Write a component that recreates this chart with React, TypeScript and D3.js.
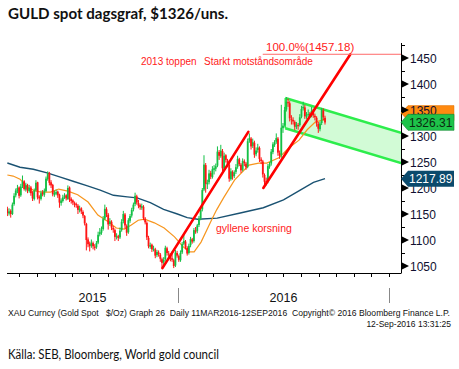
import * as d3 from 'd3';
import * as React from 'react';

// chart box
const W = 459;
const H = 369;
const plotLeft = 7;
const plotRight = 401;
const plotTop = 43;
const plotBottom = 273;

const seriesStart = '2015-03-11';
const seriesEnd = '2016-09-12';

// one bar per two trading days: [open, high, low, close]
const candles: [number, number, number, number][] = [
    // Mar 2015
    [1160, 1164, 1146, 1152], [1151, 1161, 1147, 1155], [1156, 1159, 1143, 1150], [1150, 1172, 1148, 1168],
    [1169, 1190, 1166, 1185], [1186, 1199, 1182, 1195], [1194, 1206, 1190, 1200], [1201, 1203, 1180, 1185],
    // Apr
    [1186, 1208, 1183, 1203], [1204, 1224, 1200, 1212], [1213, 1215, 1195, 1198], [1197, 1210, 1193, 1205],
    [1206, 1208, 1190, 1195], [1194, 1206, 1191, 1200], [1201, 1204, 1185, 1190], [1191, 1194, 1175, 1180],
    [1179, 1199, 1176, 1195], [1196, 1215, 1193, 1210], [1211, 1212, 1178, 1182],
    // May
    [1183, 1186, 1170, 1180], [1179, 1195, 1176, 1190], [1191, 1196, 1184, 1188], [1187, 1199, 1183, 1195],
    [1194, 1222, 1192, 1218], [1217, 1232, 1214, 1228], [1229, 1231, 1205, 1210], [1211, 1215, 1200, 1205],
    [1206, 1208, 1184, 1188], [1187, 1195, 1183, 1190],
    // Jun
    [1189, 1197, 1186, 1192], [1193, 1195, 1181, 1186], [1187, 1189, 1162, 1172], [1171, 1180, 1166, 1176],
    [1175, 1187, 1172, 1182], [1183, 1190, 1179, 1185], [1186, 1188, 1176, 1180], [1179, 1205, 1177, 1200],
    [1201, 1203, 1173, 1178], [1179, 1182, 1170, 1175], [1176, 1178, 1167, 1172],
    // Jul
    [1171, 1174, 1163, 1168], [1169, 1172, 1162, 1167], [1166, 1169, 1150, 1158], [1157, 1166, 1153, 1160],
    [1161, 1163, 1150, 1155], [1154, 1157, 1142, 1147], [1146, 1148, 1128, 1132], [1131, 1133, 1080, 1100],
    [1101, 1105, 1086, 1092], [1093, 1097, 1078, 1088], [1089, 1101, 1085, 1095],
    // Aug
    [1094, 1097, 1082, 1088], [1087, 1092, 1080, 1085], [1086, 1098, 1083, 1094], [1095, 1116, 1092, 1110],
    [1111, 1123, 1107, 1115], [1114, 1126, 1110, 1120], [1121, 1146, 1118, 1140], [1141, 1168, 1138, 1160],
    [1159, 1163, 1144, 1150], [1149, 1152, 1120, 1130],
    // Sep
    [1131, 1142, 1127, 1136], [1135, 1138, 1119, 1124], [1123, 1127, 1114, 1120], [1119, 1122, 1098, 1106],
    [1105, 1113, 1101, 1108], [1107, 1110, 1098, 1104], [1105, 1124, 1102, 1118], [1119, 1140, 1116, 1135],
    [1136, 1156, 1132, 1150], [1149, 1152, 1122, 1128],
    // Oct
    [1127, 1130, 1108, 1114], [1115, 1142, 1112, 1138], [1137, 1150, 1133, 1146], [1147, 1162, 1143, 1158],
    [1159, 1172, 1155, 1168], [1169, 1191, 1165, 1185], [1184, 1187, 1168, 1172], [1171, 1177, 1161, 1166],
    [1167, 1170, 1158, 1163], [1162, 1170, 1158, 1165], [1164, 1167, 1138, 1142],
    // Nov
    [1141, 1144, 1130, 1134], [1133, 1136, 1100, 1105], [1104, 1108, 1084, 1088], [1087, 1095, 1083, 1090],
    [1091, 1093, 1077, 1082], [1081, 1089, 1078, 1083], [1082, 1085, 1065, 1070], [1071, 1081, 1067, 1077],
    [1076, 1080, 1068, 1073], [1072, 1075, 1058, 1064],
    // Dec
    [1063, 1066, 1046, 1056], [1057, 1067, 1052, 1062], [1063, 1089, 1060, 1085], [1084, 1087, 1070, 1075],
    [1074, 1079, 1068, 1072], [1071, 1074, 1059, 1064], [1065, 1078, 1058, 1062], [1061, 1064, 1046, 1050],
    [1051, 1081, 1048, 1076], [1075, 1079, 1066, 1070], [1069, 1072, 1058, 1062],
    // Jan 2016
    [1061, 1080, 1058, 1075], [1076, 1096, 1073, 1092], [1093, 1111, 1090, 1098], [1097, 1100, 1082, 1086],
    [1085, 1088, 1070, 1074], [1075, 1093, 1072, 1089], [1090, 1106, 1086, 1102], [1101, 1104, 1093, 1097],
    [1098, 1123, 1095, 1119], [1118, 1125, 1112, 1116],
    // Feb
    [1117, 1131, 1113, 1128], [1129, 1146, 1125, 1141], [1142, 1163, 1138, 1158], [1159, 1200, 1155, 1196],
    [1197, 1263, 1194, 1245], [1244, 1248, 1191, 1208], [1207, 1216, 1198, 1210], [1211, 1235, 1207, 1228],
    [1229, 1233, 1217, 1222], [1221, 1242, 1218, 1236],
    // Mar
    [1235, 1244, 1226, 1238], [1237, 1247, 1232, 1242], [1243, 1280, 1240, 1270], [1269, 1273, 1254, 1262],
    [1261, 1283, 1258, 1272], [1271, 1275, 1232, 1238], [1237, 1268, 1234, 1262], [1263, 1265, 1249, 1254],
    [1253, 1256, 1240, 1246], [1245, 1248, 1212, 1218], [1217, 1238, 1214, 1232],
    // Apr
    [1231, 1234, 1216, 1222], [1223, 1234, 1219, 1230], [1231, 1246, 1227, 1240], [1241, 1262, 1237, 1256],
    [1255, 1258, 1242, 1246], [1245, 1248, 1229, 1234], [1235, 1257, 1232, 1252], [1251, 1255, 1242, 1248],
    [1247, 1250, 1235, 1240], [1241, 1295, 1238, 1290],
    // May
    [1291, 1305, 1287, 1296], [1295, 1298, 1274, 1280], [1281, 1295, 1277, 1288], [1287, 1291, 1258, 1264],
    [1265, 1278, 1261, 1272], [1273, 1285, 1268, 1278], [1277, 1280, 1250, 1256], [1255, 1259, 1246, 1252],
    [1251, 1254, 1220, 1226], [1225, 1228, 1200, 1212],
    // Jun
    [1213, 1220, 1205, 1212], [1213, 1246, 1209, 1242], [1241, 1250, 1237, 1246], [1247, 1275, 1243, 1270],
    [1269, 1288, 1265, 1284], [1283, 1292, 1279, 1288], [1289, 1305, 1285, 1296], [1295, 1298, 1262, 1268],
    [1267, 1272, 1256, 1262], [1263, 1360, 1258, 1316], [1315, 1325, 1306, 1320],
    // Jul
    [1321, 1356, 1318, 1350], [1351, 1375, 1347, 1366], [1365, 1372, 1356, 1364], [1363, 1367, 1328, 1334],
    [1333, 1340, 1322, 1332], [1331, 1336, 1322, 1328], [1327, 1330, 1311, 1318], [1317, 1327, 1313, 1322],
    [1321, 1325, 1312, 1320], [1321, 1342, 1318, 1336],
    // Aug
    [1337, 1358, 1334, 1352], [1353, 1366, 1349, 1356], [1355, 1360, 1333, 1338], [1337, 1346, 1333, 1340],
    [1341, 1351, 1337, 1342], [1343, 1346, 1335, 1340], [1339, 1356, 1336, 1348], [1347, 1352, 1335, 1340],
    [1339, 1343, 1330, 1336], [1335, 1338, 1318, 1324], [1323, 1327, 1306, 1314],
    // Sep
    [1313, 1328, 1309, 1324], [1325, 1354, 1321, 1350], [1349, 1353, 1330, 1336], [1335, 1339, 1322, 1326],
];

// 50-day moving average (orange)
const ma50: [string, number][] = [
    ['2015-03-11', 1225], ['2015-03-21', 1223], ['2015-04-02', 1217], ['2015-04-14', 1202],
    ['2015-04-25', 1196], ['2015-05-08', 1192], ['2015-05-25', 1192], ['2015-06-08', 1198],
    ['2015-06-24', 1194], ['2015-07-11', 1187], ['2015-07-29', 1173], ['2015-08-15', 1148],
    ['2015-09-02', 1135], ['2015-09-16', 1123], ['2015-09-30', 1121], ['2015-10-12', 1129],
    ['2015-10-24', 1138], ['2015-11-04', 1140], ['2015-11-21', 1133], ['2015-12-08', 1123],
    ['2015-12-26', 1106], ['2016-01-10', 1087], ['2016-01-21', 1077], ['2016-01-29', 1077],
    ['2016-02-10', 1096], ['2016-02-28', 1138], ['2016-03-08', 1158], ['2016-03-20', 1181],
    ['2016-04-08', 1215], ['2016-05-03', 1244], ['2016-05-20', 1248], ['2016-06-03', 1248],
    ['2016-06-24', 1258], ['2016-07-11', 1277], ['2016-07-29', 1292], ['2016-08-12', 1312],
    ['2016-08-26', 1327], ['2016-09-12', 1332],
];

// 200-day moving average (dark blue)
const ma200: [string, number][] = [
    ['2015-03-11', 1248], ['2015-04-02', 1240], ['2015-04-25', 1236], ['2015-05-19', 1229],
    ['2015-06-11', 1221], ['2015-07-03', 1213], ['2015-07-28', 1204], ['2015-08-19', 1196],
    ['2015-09-11', 1186], ['2015-10-05', 1183], ['2015-10-22', 1181], ['2015-11-14', 1172],
    ['2015-12-07', 1159], ['2015-12-31', 1150], ['2016-01-17', 1143], ['2016-02-04', 1140],
    ['2016-03-09', 1142], ['2016-04-18', 1152], ['2016-05-28', 1162], ['2016-07-02', 1177],
    ['2016-07-31', 1196], ['2016-08-23', 1211], ['2016-09-12', 1217.89],
];

// hand-drawn trend lines, channel and resistance
const trendA: [string, number][] = [['2015-12-05', 1046], ['2016-05-02', 1308]];
const trendB: [string, number][] = [['2016-05-28', 1200], ['2016-10-26', 1457.18]];
const channelTop: [string, number][] = [['2016-07-05', 1373], ['2017-01-22', 1306]];
const channelBottom: [string, number][] = [['2016-07-05', 1315], ['2017-01-22', 1248]];
const resistance = { from: '2016-05-27', value: 1457.18 };

const yLabels = [1050, 1100, 1150, 1200, 1250, 1300, 1350, 1400, 1450];
const yMinor = [1075, 1125, 1175, 1225, 1275, 1325, 1375, 1425, 1475];
const years = ['2015', '2016'];
const lastPrice = 1326.31;
const lastMa200 = 1217.89;
const lastMa50 = 1344;

const parse = d3.timeParse('%Y-%m-%d');
const bbFont = '"Liberation Sans", Arial, sans-serif';

function tagPath(y0: number, h: number) {
    const x0 = plotRight;
    const x1 = x0 + 7;
    const x2 = 454;
    return `M${x0},${y0} L${x1},${y0 - h / 2} L${x2},${y0 - h / 2} L${x2},${y0 + h / 2} L${x1},${y0 + h / 2} Z`;
}

export default function App() {
    const x = d3.scaleTime()
        .domain([parse('2016-01-01')!, parse('2017-01-01')!])
        .range([178, 389]);
    const y = d3.scaleLinear().domain([1050, 1450]).range([266, 58]);

    const xi = d3.scaleLinear()
        .domain([0, candles.length - 1])
        .range([x(parse(seriesStart)!), x(parse(seriesEnd)!)]);

    const line = d3.line<[string, number]>()
        .x(d => x(parse(d[0])!))
        .y(d => y(d[1]));

    const months = d3.timeMonth.range(parse('2015-04-01')!, parse('2017-01-02')!);
    const yearEdges = [parse('2016-01-01')!, parse('2017-01-01')!];

    const chan = [
        ...channelTop,
        ...channelBottom.slice().reverse(),
    ];
    const chanPath = line(chan as [string, number][]) + 'Z';

    return (
        <svg width={W} height={H} style={{ position: 'absolute', left: 0, top: 0, background: '#fff' }}>
            <defs>
                <clipPath id="plot">
                    <rect x={plotLeft} y={plotTop} width={plotRight - plotLeft} height={plotBottom - plotTop} />
                </clipPath>
            </defs>
            <rect width={W} height={H} fill="#fff" />

            <text x={8} y={19} fontFamily="Lato, sans-serif" fontWeight={700} fontSize={16}
                fill="#111" textLength={220} lengthAdjust="spacingAndGlyphs">
                GULD spot dagsgraf, $1326/uns.
            </text>

            <g clipPath="url(#plot)">
                <path d={chanPath} fill="#d2fbd6" stroke="none" />
                <path d={line(channelTop)!} fill="none" stroke="#2ded4c" strokeWidth={2.6} />
                <path d={line(channelBottom)!} fill="none" stroke="#2ded4c" strokeWidth={2.6} />
                <line x1={x(parse(channelTop[0][0])!)} x2={x(parse(channelTop[0][0])!)}
                    y1={y(channelTop[0][1])} y2={y(channelBottom[0][1])} stroke="#2ded4c" strokeWidth={1.5} />

                <path d={line(ma200)!} fill="none" stroke="#1a5272" strokeWidth={1.4} />
                <path d={line(ma50)!} fill="none" stroke="#f7961e" strokeWidth={1.2} />

                {candles.map((c, i) => {
                    const [o, h, l, cl] = c;
                    const up = cl >= o;
                    const col = up ? '#14c046' : '#ff1414';
                    const cx = xi(i);
                    const top = y(Math.max(o, cl));
                    const bh = Math.max(1, Math.abs(y(o) - y(cl)));
                    return (
                        <g key={i}>
                            <line x1={cx} x2={cx} y1={y(h)} y2={y(l)} stroke={col} strokeWidth={1} />
                            <rect x={cx - 0.9} y={top} width={1.8} height={bh} fill={col} />
                        </g>
                    );
                })}

                <path d={line(trendA)!} fill="none" stroke="#ff0000" strokeWidth={2.6} strokeLinecap="round" />
                <path d={line(trendB)!} fill="none" stroke="#ff0000" strokeWidth={2.6} strokeLinecap="round" />
            </g>

            <line x1={x(parse(resistance.from)!)} x2={plotRight} y1={y(resistance.value)} y2={y(resistance.value)}
                stroke="#ff6a6a" strokeWidth={1} />
            <text x={266} y={51} fontFamily={bbFont} fontSize={11.5} fill="#ff1a1a">
                {`100.0%(${resistance.value.toFixed(2)})`}
            </text>
            <text x={141} y={65} fontFamily={bbFont} fontSize={10} fill="#ff1a1a">2013 toppen</text>
            <text x={204} y={65} fontFamily={bbFont} fontSize={10} fill="#ff1a1a">Starkt motståndsområde</text>
            <text x={216} y={232} fontFamily={bbFont} fontSize={10.5} fill="#ff1a1a">gyllene korsning</text>

            {/* axes */}
            <line x1={plotLeft} x2={plotRight} y1={plotBottom + 0.5} y2={plotBottom + 0.5} stroke="#000" />
            <line x1={plotRight + 0.5} x2={plotRight + 0.5} y1={plotTop} y2={plotBottom + 0.5} stroke="#000" />
            {months.map((m, i) => (
                <line key={i} x1={Math.round(x(m)) + 0.5} x2={Math.round(x(m)) + 0.5}
                    y1={plotBottom} y2={plotBottom + 4} stroke="#000" />
            ))}
            {yearEdges.map((d, i) => (
                <line key={i} x1={Math.round(x(d)) + 0.5} x2={Math.round(x(d)) + 0.5}
                    y1={288} y2={303} stroke="#888" />
            ))}
            <text x={(plotLeft + x(yearEdges[0])) / 2} y={302} textAnchor="middle"
                fontFamily={bbFont} fontSize={12.5} fill="#111">{years[0]}</text>
            <text x={(x(yearEdges[0]) + x(yearEdges[1])) / 2} y={302} textAnchor="middle"
                fontFamily={bbFont} fontSize={12.5} fill="#111">{years[1]}</text>

            {yMinor.map(v => (
                <line key={v} x1={plotRight} x2={plotRight + 4} y1={Math.round(y(v)) + 0.5} y2={Math.round(y(v)) + 0.5}
                    stroke="#000" />
            ))}

            <path d={tagPath(y(lastMa50), 15)} fill="#ff8a10" stroke="#e07000" strokeWidth={0.5} />
            {yLabels.map(v => {
                const yy = y(v);
                return (
                    <g key={v}>
                        <path d={`M${plotRight + 1},${yy - 3.5} L${plotRight + 8},${yy} L${plotRight + 1},${yy + 3.5} Z`}
                            fill="#000" />
                        <text x={410} y={yy + 4.5} fontFamily={bbFont} fontSize={12} fill="#101030">{v}</text>
                    </g>
                );
            })}

            <path d={tagPath(y(lastPrice), 16)} fill="#1ec34a" stroke="#0f8a30" strokeWidth={0.6} />
            <text x={409} y={y(lastPrice) + 4.5} fontFamily={bbFont} fontSize={12} fill="#0b2a10">
                {lastPrice.toFixed(2)}
            </text>
            <path d={tagPath(y(lastMa200), 16)} fill="#0b4a6c" />
            <text x={409} y={y(lastMa200) + 4.5} fontFamily={bbFont} fontSize={12} fill="#fff">
                {lastMa200.toFixed(2)}
            </text>

            <text x={8} y={316} fontFamily={bbFont} fontSize={8.5} fill="#111" textLength={442}
                lengthAdjust="spacingAndGlyphs" xmlSpace="preserve">
                {'XAU Curncy (Gold Spot   $/Oz) Graph 26  Daily 11MAR2016-12SEP2016  Copyright\u00a9 2016 Bloomberg Finance L.P.'}
            </text>
            <text x={451} y={326.5} textAnchor="end" fontFamily={bbFont} fontSize={8.5} fill="#111">
                12-Sep-2016 13:31:25
            </text>

            <text x={8} y={359} fontFamily="Lato, sans-serif" fontSize={12.5} fill="#111"
                textLength={211} lengthAdjust="spacingAndGlyphs">
                Källa: SEB, Bloomberg, World gold council
            </text>
        </svg>
    );
}
